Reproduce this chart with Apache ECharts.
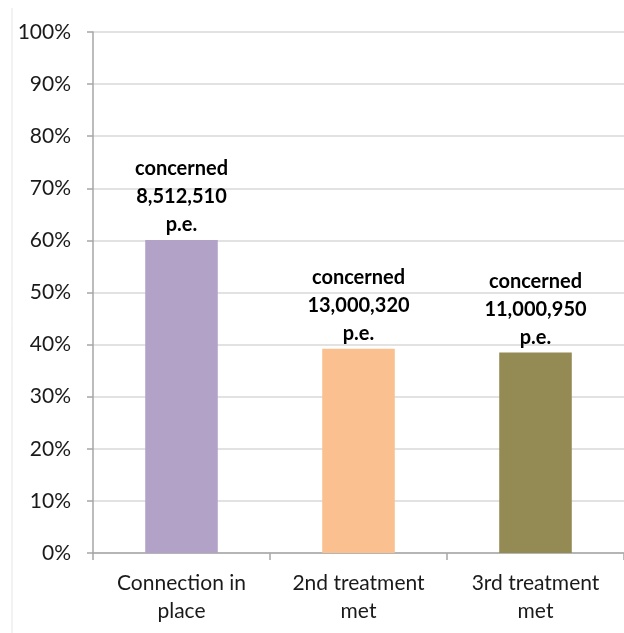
<!DOCTYPE html>
<html>
<head>
<meta charset="utf-8">
<script src="https://cdn.jsdelivr.net/npm/echarts@6/dist/echarts.min.js"></script>
<style>html,body{margin:0;padding:0;background:#fff}#c{width:624px;height:633px}</style>
</head>
<body>
<div id="c"></div>
<script>
const categories = ['Connection in\nplace', '2nd treatment\nmet', '3rd treatment\nmet'];
const values = [60.1, 39.2, 38.5];
const concerned = ['8,512,510', '13,000,320', '11,000,950'];
const colors = ['#B3A2C7', '#FAC090', '#948A54'];
const yTicks = [0, 10, 20, 30, 40, 50, 60, 70, 80, 90, 100];

const chart = echarts.init(document.getElementById('c'), null, {renderer: 'canvas'});
const font = 'Lato, "Open Sans", sans-serif';
chart.setOption({
  animation: false,
  backgroundColor: '#fff',
  grid: {left: 93, right: -12, top: 32, bottom: 80, containLabel: false},
  graphic: [{
    type: 'line', shape: {x1: 12, y1: 8, x2: 12, y2: 633},
    style: {stroke: '#e6e6e6', lineWidth: 1}, silent: true
  }],
  xAxis: {
    type: 'category',
    data: categories,
    axisLine: {lineStyle: {color: '#A6A6A6', width: 1.5}},
    axisTick: {show: true, length: 7, lineStyle: {color: '#A6A6A6', width: 1.5}},
    axisLabel: {fontFamily: font, fontSize: 21, color: '#1a1a1a', lineHeight: 28, margin: 16, interval: 0}
  },
  yAxis: {
    type: 'value', min: yTicks[0], max: yTicks[yTicks.length - 1], interval: 10,
    axisLine: {show: true, lineStyle: {color: '#A6A6A6', width: 1.5}},
    axisTick: {show: true, length: 6, lineStyle: {color: '#A6A6A6', width: 1.5}},
    splitLine: {lineStyle: {color: '#D9D9D9', width: 1.5}},
    axisLabel: {fontFamily: font, fontSize: 21, color: '#1a1a1a', margin: 22, formatter: v => v + '%'}
  },
  series: [{
    type: 'bar',
    barCategoryGap: '59%',
    data: values.map((v, i) => ({value: v, itemStyle: {color: colors[i]}})),
    label: {
      show: true, position: 'top', distance: 1,
      fontFamily: font, fontWeight: 'bold', fontSize: 20, color: '#000', lineHeight: 28,
      formatter: p => 'concerned\n' + concerned[p.dataIndex] + '\np.e.'
    }
  }]
});
</script>
</body>
</html>
